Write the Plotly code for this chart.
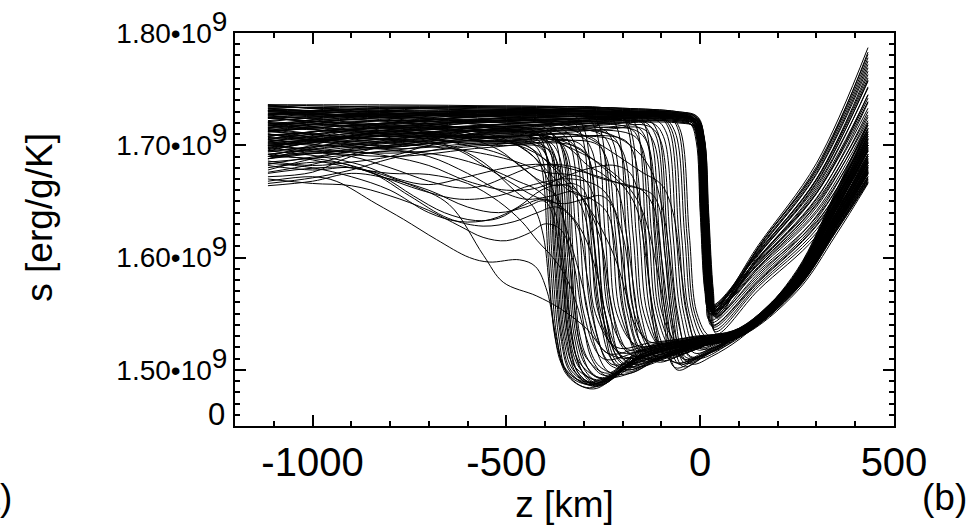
import plotly.graph_objects as go

# ---------------- data (z in km, s in units of 1e9 erg/g/K) ----------------
late_cliff_profiles = [
    [(-1115,1.736),(-800,1.736),(-500,1.735),(-200,1.733),(-60,1.730),(-15,1.726),(0,1.710),(10,1.64),(22,1.57),(32,1.551),(150,1.611),(300,1.684),(433,1.787)],
    [(-1115,1.733),(-800,1.735),(-500,1.734),(-200,1.732),(-60,1.729),(-11,1.725),(4,1.709),(14,1.64),(26,1.57),(36,1.548),(150,1.609),(300,1.681),(433,1.781)],
    [(-1115,1.728),(-800,1.733),(-500,1.734),(-200,1.731),(-60,1.729),(-19,1.725),(-4,1.709),(6,1.64),(18,1.57),(28,1.553),(150,1.608),(300,1.677),(433,1.775)],
    [(-1115,1.735),(-800,1.731),(-500,1.730),(-200,1.731),(-60,1.728),(-7,1.724),(8,1.708),(18,1.64),(30,1.57),(40,1.550),(150,1.606),(300,1.674),(433,1.769)],
    [(-1115,1.722),(-800,1.728),(-500,1.732),(-200,1.730),(-60,1.727),(-13,1.723),(2,1.707),(12,1.64),(24,1.57),(34,1.556),(150,1.605),(300,1.670),(433,1.763)],
    [(-1115,1.731),(-800,1.730),(-500,1.727),(-200,1.729),(-60,1.727),(-23,1.723),(-8,1.707),(2,1.64),(14,1.57),(24,1.552),(150,1.603),(300,1.667),(433,1.757)],
    [(-1115,1.718),(-800,1.725),(-500,1.729),(-200,1.728),(-60,1.726),(-9,1.722),(6,1.706),(16,1.64),(28,1.57),(38,1.547),(150,1.602),(300,1.664),(433,1.751)],
    [(-1115,1.726),(-800,1.722),(-500,1.726),(-200,1.728),(-60,1.726),(-17,1.722),(-2,1.706),(8,1.64),(20,1.57),(30,1.554),(150,1.600),(300,1.660),(433,1.745)],
    [(-1115,1.712),(-800,1.720),(-500,1.724),(-200,1.727),(-60,1.725),(-5,1.721),(10,1.705),(20,1.64),(32,1.57),(42,1.549),(150,1.599),(300,1.657),(433,1.739)],
    [(-1115,1.733),(-800,1.726),(-500,1.720),(-200,1.726),(-60,1.724),(-21,1.720),(-6,1.704),(4,1.64),(16,1.57),(26,1.557),(150,1.597),(300,1.653),(433,1.733)],
    [(-1115,1.706),(-800,1.716),(-500,1.722),(-200,1.725),(-60,1.724),(-11,1.720),(4,1.704),(14,1.64),(26,1.57),(36,1.551),(150,1.595),(300,1.650),(433,1.727)],
    [(-1115,1.724),(-800,1.718),(-500,1.717),(-200,1.724),(-60,1.723),(-25,1.719),(-10,1.703),(0,1.64),(12,1.57),(22,1.555),(150,1.594),(300,1.647),(433,1.722)],
    [(-1115,1.716),(-800,1.712),(-500,1.719),(-200,1.722),(-60,1.722),(-3,1.718),(12,1.702),(22,1.64),(34,1.57),(44,1.546),(150,1.609),(300,1.679),(433,1.778)],
    [(-1115,1.700),(-800,1.710),(-500,1.715),(-200,1.721),(-60,1.721),(-18,1.717),(-3,1.701),(7,1.64),(19,1.57),(29,1.553),(150,1.604),(300,1.669),(433,1.760)],
    [(-1115,1.729),(-800,1.721),(-500,1.713),(-200,1.720),(-60,1.720),(-8,1.716),(7,1.700),(17,1.64),(29,1.57),(39,1.550),(150,1.599),(300,1.658),(433,1.742)],
    [(-1115,1.710),(-800,1.706),(-500,1.716),(-200,1.722),(-60,1.721),(-15,1.717),(0,1.701),(10,1.64),(22,1.57),(32,1.552),(150,1.607),(300,1.675),(433,1.772)],
    [(-1115,1.734),(-800,1.733),(-500,1.731),(-200,1.729),(-60,1.727),(-12,1.723),(3,1.707),(13,1.64),(25,1.57),(35,1.552),(150,1.590),(300,1.640),(433,1.715)],
    [(-1115,1.719),(-800,1.727),(-500,1.730),(-200,1.729),(-60,1.728),(-20,1.724),(-5,1.708),(5,1.64),(17,1.57),(27,1.549),(150,1.592),(300,1.645),(433,1.725)],
    [(-1115,1.727),(-800,1.734),(-500,1.733),(-200,1.730),(-60,1.729),(-6,1.725),(9,1.709),(19,1.64),(31,1.57),(41,1.554),(150,1.588),(300,1.636),(433,1.708)],
    [(-1115,1.704),(-800,1.714),(-500,1.725),(-200,1.727),(-60,1.726),(-16,1.722),(-1,1.706),(9,1.64),(21,1.57),(31,1.551),(150,1.596),(300,1.652),(433,1.738)],
    [(-1115,1.732),(-800,1.729),(-500,1.725),(-200,1.726),(-60,1.725),(-10,1.721),(5,1.705),(15,1.64),(27,1.57),(37,1.556),(150,1.600),(300,1.662),(433,1.752)],
    [(-1115,1.715),(-800,1.723),(-500,1.731),(-200,1.732),(-60,1.729),(-22,1.725),(-7,1.709),(3,1.64),(15,1.57),(25,1.550),(150,1.605),(300,1.670),(433,1.766)],
    [(-1115,1.736),(-800,1.734),(-500,1.732),(-200,1.729),(-60,1.726),(-4,1.722),(11,1.706),(21,1.64),(33,1.57),(43,1.548),(150,1.586),(300,1.632),(433,1.700)],
    [(-1115,1.721),(-800,1.717),(-500,1.721),(-200,1.725),(-60,1.725),(-14,1.721),(1,1.705),(11,1.64),(23,1.57),(33,1.553),(150,1.598),(300,1.657),(433,1.745)],
    [(-1115,1.708),(-800,1.719),(-500,1.728),(-200,1.730),(-60,1.728),(-24,1.724),(-9,1.708),(1,1.64),(13,1.57),(23,1.555),(150,1.603),(300,1.666),(433,1.758)],
    [(-1115,1.725),(-800,1.732),(-500,1.735),(-200,1.733),(-60,1.730),(-9,1.726),(6,1.710),(16,1.64),(28,1.57),(38,1.549),(150,1.609),(300,1.679),(433,1.783)],
    [(-1115,1.730),(-800,1.724),(-500,1.722),(-200,1.724),(-60,1.723),(-18,1.719),(-3,1.703),(7,1.64),(19,1.57),(29,1.552),(150,1.594),(300,1.648),(433,1.730)],
    [(-1115,1.713),(-800,1.727),(-500,1.729),(-200,1.727),(-60,1.726),(-7,1.722),(8,1.706),(18,1.64),(30,1.57),(40,1.547),(150,1.591),(300,1.642),(433,1.720)],
]

cliff_low_profiles = [
    [(-1115,1.724),(-800,1.728),(-500,1.726),(-200,1.725),(-60,1.724),(-13,1.720),(2,1.704),(12,1.64),(24,1.565),(34,1.538),(150,1.578),(300,1.628),(433,1.700)],
    [(-1115,1.709),(-800,1.717),(-500,1.724),(-200,1.726),(-60,1.725),(-19,1.721),(-4,1.705),(6,1.64),(18,1.565),(28,1.542),(150,1.582),(300,1.634),(433,1.712)],
    [(-1115,1.731),(-800,1.726),(-500,1.728),(-200,1.727),(-60,1.726),(-8,1.722),(7,1.706),(17,1.64),(29,1.565),(39,1.534),(150,1.574),(300,1.622),(433,1.692)],
    [(-1115,1.717),(-800,1.731),(-500,1.733),(-200,1.729),(-60,1.727),(-15,1.723),(0,1.707),(10,1.64),(22,1.565),(32,1.540),(150,1.580),(300,1.631),(433,1.706)],
    [(-1115,1.735),(-800,1.729),(-500,1.723),(-200,1.724),(-60,1.723),(-10,1.719),(5,1.703),(15,1.64),(27,1.565),(37,1.536),(150,1.576),(300,1.625),(433,1.696)],
    [(-1115,1.702),(-800,1.711),(-500,1.719),(-200,1.723),(-60,1.722),(-22,1.718),(-7,1.702),(3,1.64),(15,1.565),(25,1.544),(150,1.584),(300,1.637),(433,1.718)],
    [(-1115,1.727),(-800,1.733),(-500,1.730),(-200,1.728),(-60,1.727),(-5,1.723),(10,1.707),(20,1.64),(32,1.565),(42,1.532),(150,1.571),(300,1.619),(433,1.688)],
    [(-1115,1.713),(-800,1.720),(-500,1.727),(-200,1.728),(-60,1.726),(-17,1.722),(-2,1.706),(8,1.64),(20,1.565),(30,1.539),(150,1.579),(300,1.629),(433,1.703)],
]

deep_dip_profiles = [
    [(-1115,1.702),(-800,1.708),(-550,1.706),(-440,1.703),(-410,1.691),(-387,1.60),(-370,1.53),(-345,1.496),(-285,1.484),(-150,1.510),(-30,1.522),(100,1.530),(250,1.572),(350,1.623),(433,1.667)],
    [(-1115,1.715),(-800,1.705),(-550,1.710),(-430,1.707),(-400,1.695),(-377,1.60),(-360,1.53),(-335,1.498),(-278,1.486),(-150,1.512),(-30,1.524),(100,1.532),(250,1.574),(350,1.627),(433,1.672)],
    [(-1115,1.695),(-800,1.712),(-550,1.704),(-423,1.700),(-393,1.688),(-370,1.60),(-353,1.53),(-328,1.500),(-272,1.488),(-150,1.509),(-30,1.520),(100,1.529),(250,1.576),(350,1.630),(433,1.677)],
    [(-1115,1.725),(-800,1.716),(-550,1.712),(-415,1.710),(-385,1.698),(-362,1.60),(-345,1.53),(-320,1.497),(-268,1.485),(-150,1.514),(-30,1.526),(100,1.534),(250,1.577),(350,1.633),(433,1.682)],
    [(-1115,1.688),(-800,1.700),(-550,1.708),(-407,1.705),(-377,1.693),(-354,1.60),(-337,1.53),(-312,1.502),(-262,1.490),(-150,1.511),(-30,1.523),(100,1.531),(250,1.579),(350,1.637),(433,1.687)],
    [(-1115,1.720),(-800,1.710),(-550,1.700),(-400,1.698),(-370,1.686),(-347,1.60),(-330,1.53),(-305,1.499),(-255,1.487),(-150,1.515),(-30,1.527),(100,1.535),(250,1.580),(350,1.640),(433,1.692)],
    [(-1115,1.705),(-800,1.720),(-550,1.714),(-390,1.712),(-360,1.700),(-337,1.60),(-320,1.53),(-295,1.504),(-250,1.492),(-150,1.516),(-30,1.525),(100,1.533),(250,1.582),(350,1.644),(433,1.697)],
    [(-1115,1.692),(-800,1.703),(-550,1.710),(-380,1.706),(-350,1.694),(-327,1.60),(-310,1.53),(-285,1.507),(-245,1.495),(-150,1.518),(-30,1.528),(100,1.536),(250,1.583),(350,1.647),(433,1.702)],
    [(-1115,1.710),(-800,1.697),(-550,1.702),(-445,1.699),(-415,1.687),(-392,1.60),(-375,1.53),(-350,1.501),(-290,1.489),(-150,1.508),(-30,1.521),(100,1.529),(250,1.573),(350,1.625),(433,1.670)],
    [(-1115,1.690),(-800,1.714),(-550,1.716),(-435,1.714),(-405,1.702),(-382,1.60),(-365,1.53),(-340,1.495),(-275,1.483),(-150,1.513),(-30,1.525),(100,1.533),(250,1.577),(350,1.632),(433,1.680)],
    [(-1115,1.728),(-800,1.722),(-550,1.708),(-427,1.703),(-397,1.691),(-374,1.60),(-357,1.53),(-332,1.499),(-265,1.487),(-150,1.511),(-30,1.523),(100,1.531),(250,1.575),(350,1.629),(433,1.675)],
    [(-1115,1.700),(-800,1.706),(-550,1.713),(-419,1.709),(-389,1.697),(-366,1.60),(-349,1.53),(-324,1.503),(-258,1.491),(-150,1.514),(-30,1.526),(100,1.534),(250,1.580),(350,1.639),(433,1.690)],
    [(-1115,1.683),(-800,1.699),(-550,1.703),(-411,1.701),(-381,1.689),(-358,1.60),(-341,1.53),(-316,1.498),(-262,1.486),(-150,1.512),(-30,1.524),(100,1.532),(250,1.578),(350,1.635),(433,1.684)],
    [(-1115,1.718),(-800,1.713),(-550,1.718),(-403,1.716),(-373,1.704),(-350,1.60),(-333,1.53),(-308,1.505),(-252,1.493),(-150,1.517),(-30,1.527),(100,1.535),(250,1.583),(350,1.646),(433,1.700)],
    [(-1115,1.697),(-800,1.709),(-550,1.707),(-395,1.704),(-365,1.692),(-342,1.60),(-325,1.53),(-300,1.501),(-258,1.489),(-150,1.514),(-30,1.525),(100,1.533),(250,1.581),(350,1.642),(433,1.695)],
    [(-1115,1.710),(-800,1.702),(-550,1.711),(-385,1.710),(-355,1.698),(-332,1.60),(-315,1.53),(-290,1.509),(-240,1.497),(-150,1.519),(-30,1.529),(100,1.537),(250,1.584),(350,1.649),(433,1.705)],
]

mid_drop_profiles = [
    [(-1115,1.710),(-800,1.700),(-550,1.714),(-365,1.712),(-335,1.700),(-310,1.62),(-290,1.55),(-240,1.515),(-150,1.520),(-20,1.527),(100,1.534),(250,1.582),(350,1.646),(433,1.700)],
    [(-1115,1.698),(-800,1.712),(-550,1.703),(-345,1.705),(-315,1.693),(-290,1.62),(-270,1.55),(-215,1.520),(-130,1.524),(-20,1.529),(100,1.536),(250,1.580),(350,1.639),(433,1.690)],
    [(-1115,1.730),(-800,1.725),(-550,1.726),(-330,1.727),(-300,1.715),(-275,1.62),(-255,1.55),(-200,1.512),(-110,1.518),(0,1.526),(100,1.533),(250,1.584),(350,1.649),(433,1.705)],
    [(-1115,1.685),(-800,1.695),(-550,1.706),(-310,1.708),(-280,1.696),(-255,1.62),(-235,1.55),(-185,1.518),(-100,1.522),(0,1.528),(100,1.532),(250,1.575),(350,1.629),(433,1.675)],
    [(-1115,1.727),(-800,1.728),(-550,1.729),(-290,1.729),(-260,1.717),(-235,1.62),(-215,1.55),(-165,1.522),(-80,1.524),(10,1.530),(100,1.537),(250,1.586),(350,1.654),(433,1.712)],
    [(-1115,1.700),(-800,1.690),(-550,1.698),(-273,1.702),(-243,1.690),(-218,1.62),(-198,1.55),(-150,1.508),(-70,1.515),(20,1.527),(100,1.533),(250,1.578),(350,1.635),(433,1.685)],
    [(-1115,1.718),(-800,1.710),(-550,1.716),(-255,1.715),(-225,1.703),(-200,1.62),(-180,1.55),(-130,1.525),(-50,1.526),(30,1.530),(100,1.535),(250,1.581),(350,1.642),(433,1.695)],
    [(-1115,1.690),(-800,1.702),(-550,1.710),(-237,1.710),(-207,1.698),(-182,1.62),(-162,1.55),(-115,1.515),(-40,1.519),(30,1.527),(100,1.532),(250,1.577),(350,1.632),(433,1.680)],
    [(-1115,1.735),(-800,1.731),(-550,1.731),(-220,1.731),(-190,1.719),(-165,1.62),(-145,1.55),(-100,1.520),(-30,1.522),(40,1.529),(100,1.536),(250,1.586),(350,1.652),(433,1.710)],
    [(-1115,1.708),(-800,1.715),(-550,1.704),(-203,1.706),(-173,1.694),(-148,1.62),(-128,1.55),(-85,1.512),(-20,1.517),(50,1.527),(110,1.535),(250,1.580),(350,1.639),(433,1.690)],
    [(-1115,1.720),(-800,1.708),(-550,1.714),(-187,1.716),(-157,1.704),(-132,1.62),(-112,1.55),(-70,1.518),(-10,1.521),(50,1.528),(110,1.537),(250,1.583),(350,1.646),(433,1.700)],
    [(-1115,1.697),(-800,1.720),(-550,1.728),(-173,1.730),(-143,1.718),(-118,1.62),(-98,1.55),(-60,1.525),(0,1.526),(60,1.531),(120,1.540),(250,1.587),(350,1.656),(433,1.715)],
    [(-1115,1.720),(-800,1.715),(-550,1.708),(-375,1.706),(-345,1.694),(-320,1.62),(-300,1.55),(-250,1.510),(-160,1.516),(-40,1.524),(100,1.531),(250,1.578),(350,1.635),(433,1.685)],
    [(-1115,1.692),(-800,1.705),(-550,1.716),(-355,1.714),(-325,1.702),(-300,1.62),(-280,1.55),(-228,1.505),(-140,1.513),(-30,1.523),(100,1.530),(250,1.576),(350,1.631),(433,1.678)],
    [(-1115,1.712),(-800,1.720),(-550,1.721),(-337,1.722),(-307,1.710),(-282,1.62),(-262,1.55),(-210,1.516),(-120,1.520),(-10,1.527),(100,1.535),(250,1.585),(350,1.651),(433,1.708)],
    [(-1115,1.700),(-800,1.693),(-550,1.700),(-320,1.703),(-290,1.691),(-265,1.62),(-245,1.55),(-190,1.507),(-100,1.514),(0,1.524),(100,1.531),(250,1.577),(350,1.633),(433,1.682)],
    [(-1115,1.733),(-800,1.727),(-550,1.726),(-300,1.726),(-270,1.714),(-245,1.62),(-225,1.55),(-175,1.513),(-90,1.518),(10,1.527),(100,1.534),(250,1.582),(350,1.644),(433,1.698)],
    [(-1115,1.688),(-800,1.710),(-550,1.707),(-281,1.707),(-251,1.695),(-226,1.62),(-206,1.55),(-158,1.518),(-70,1.521),(20,1.528),(100,1.533),(250,1.579),(350,1.638),(433,1.688)],
    [(-1115,1.705),(-800,1.698),(-550,1.712),(-263,1.711),(-233,1.699),(-208,1.62),(-188,1.55),(-140,1.510),(-60,1.516),(30,1.526),(100,1.530),(250,1.574),(350,1.627),(433,1.672)],
    [(-1115,1.725),(-800,1.726),(-550,1.728),(-245,1.728),(-215,1.716),(-190,1.62),(-170,1.55),(-122,1.520),(-45,1.522),(35,1.529),(100,1.535),(250,1.583),(350,1.647),(433,1.702)],
    [(-1115,1.695),(-800,1.703),(-550,1.704),(-228,1.705),(-198,1.693),(-173,1.62),(-153,1.55),(-108,1.509),(-35,1.515),(40,1.526),(105,1.532),(250,1.575),(350,1.629),(433,1.676)],
    [(-1115,1.731),(-800,1.728),(-550,1.727),(-211,1.727),(-181,1.715),(-156,1.62),(-136,1.55),(-92,1.516),(-25,1.519),(45,1.528),(110,1.535),(250,1.582),(350,1.643),(433,1.696)],
    [(-1115,1.703),(-800,1.718),(-550,1.727),(-195,1.729),(-165,1.717),(-140,1.62),(-120,1.55),(-78,1.514),(-15,1.518),(50,1.528),(115,1.537),(250,1.585),(350,1.650),(433,1.706)],
    [(-1115,1.714),(-800,1.699),(-550,1.708),(-180,1.710),(-150,1.698),(-125,1.62),(-105,1.55),(-65,1.521),(-5,1.523),(55,1.529),(115,1.536),(250,1.579),(350,1.636),(433,1.686)],
]

shoulder_drop_profiles = [
    [(-1115,1.700),(-800,1.708),(-550,1.706),(-450,1.700),(-380,1.680),(-330,1.660),(-300,1.640),(-280,1.60),(-260,1.55),(-230,1.51),(-190,1.500),(-110,1.510),(0,1.522),(100,1.531),(250,1.576),(350,1.630),(433,1.678)],
    [(-1115,1.712),(-800,1.705),(-650,1.700),(-560,1.685),(-480,1.660),(-430,1.645),(-405,1.62),(-385,1.56),(-365,1.515),(-335,1.494),(-280,1.487),(-160,1.510),(-30,1.522),(100,1.530),(250,1.573),(350,1.625),(433,1.669)],
    [(-1115,1.724),(-800,1.717),(-600,1.713),(-500,1.705),(-430,1.690),(-380,1.672),(-330,1.658),(-280,1.652),(-240,1.640),(-215,1.60),(-195,1.55),(-170,1.52),(-130,1.508),(-50,1.515),(40,1.526),(120,1.537),(250,1.580),(350,1.636),(433,1.686)],
    [(-1115,1.705),(-800,1.716),(-550,1.714),(-420,1.710),(-330,1.700),(-250,1.680),(-190,1.660),(-160,1.640),(-140,1.60),(-120,1.55),(-95,1.515),(-55,1.506),(10,1.516),(90,1.530),(250,1.581),(350,1.642),(433,1.695)],
    [(-1115,1.690),(-800,1.698),(-600,1.704),(-470,1.700),(-390,1.685),(-330,1.665),(-270,1.635),(-220,1.600),(-185,1.56),(-155,1.525),(-115,1.512),(-40,1.518),(40,1.527),(110,1.535),(250,1.578),(350,1.633),(433,1.682)],
    [(-1115,1.731),(-800,1.725),(-550,1.722),(-350,1.718),(-250,1.712),(-180,1.700),(-130,1.680),(-95,1.640),(-75,1.59),(-55,1.54),(-25,1.512),(20,1.515),(100,1.532),(250,1.585),(350,1.650),(433,1.708)],
    [(-1115,1.714),(-800,1.702),(-600,1.695),(-480,1.686),(-400,1.676),(-340,1.674),(-300,1.670),(-270,1.650),(-250,1.60),(-232,1.55),(-210,1.515),(-170,1.505),(-90,1.512),(10,1.524),(100,1.532),(250,1.577),(350,1.631),(433,1.680)],
    [(-1115,1.696),(-800,1.712),(-600,1.716),(-450,1.712),(-350,1.700),(-260,1.684),(-200,1.668),(-160,1.650),(-130,1.62),(-100,1.57),(-75,1.53),(-45,1.510),(10,1.513),(80,1.527),(250,1.583),(350,1.646),(433,1.700)],
    [(-1115,1.720),(-800,1.710),(-600,1.700),(-500,1.690),(-440,1.675),(-400,1.662),(-370,1.655),(-345,1.62),(-325,1.56),(-305,1.515),(-275,1.495),(-230,1.492),(-140,1.512),(-30,1.523),(100,1.532),(250,1.577),(350,1.632),(433,1.681)],
    [(-1115,1.728),(-800,1.730),(-550,1.726),(-380,1.720),(-280,1.705),(-210,1.690),(-150,1.676),(-100,1.665),(-70,1.640),(-50,1.59),(-30,1.545),(-5,1.520),(40,1.520),(120,1.537),(250,1.587),(350,1.655),(433,1.714)],
    [(-1115,1.702),(-800,1.696),(-650,1.690),(-550,1.680),(-470,1.668),(-420,1.660),(-380,1.645),(-355,1.60),(-338,1.55),(-318,1.51),(-285,1.490),(-240,1.490),(-150,1.512),(-30,1.524),(100,1.532),(250,1.575),(350,1.628),(433,1.676)],
    [(-1115,1.716),(-800,1.722),(-550,1.718),(-420,1.712),(-340,1.698),(-290,1.682),(-250,1.674),(-215,1.662),(-190,1.62),(-170,1.57),(-150,1.53),(-115,1.512),(-40,1.517),(40,1.527),(110,1.535),(250,1.582),(350,1.644),(433,1.697)],
]

near_drop_profiles = [
    [(-1115,1.712),(-800,1.722),(-500,1.718),(-250,1.720),(-170,1.718),(-140,1.706),(-115,1.62),(-95,1.55),(-65,1.502),(0,1.512),(100,1.532),(250,1.580),(350,1.639),(433,1.690)],
    [(-1115,1.703),(-800,1.714),(-500,1.724),(-250,1.723),(-160,1.722),(-130,1.710),(-105,1.62),(-85,1.55),(-55,1.505),(10,1.515),(100,1.533),(250,1.583),(350,1.646),(433,1.700)],
    [(-1115,1.725),(-800,1.713),(-500,1.708),(-250,1.714),(-150,1.715),(-120,1.703),(-95,1.62),(-75,1.55),(-45,1.503),(20,1.514),(100,1.530),(250,1.577),(350,1.632),(433,1.680)],
    [(-1115,1.694),(-800,1.707),(-500,1.719),(-250,1.725),(-140,1.724),(-110,1.712),(-85,1.62),(-65,1.55),(-35,1.508),(30,1.518),(110,1.536),(250,1.586),(350,1.652),(433,1.710)],
    [(-1115,1.730),(-800,1.724),(-500,1.712),(-250,1.718),(-125,1.720),(-95,1.708),(-70,1.62),(-50,1.55),(-15,1.515),(50,1.524),(120,1.538),(250,1.584),(350,1.649),(433,1.705)],
    [(-1115,1.716),(-800,1.728),(-500,1.727),(-250,1.726),(-110,1.726),(-80,1.714),(-55,1.62),(-35,1.55),(0,1.520),(60,1.528),(130,1.541),(250,1.589),(350,1.659),(433,1.720)],
    [(-1115,1.707),(-800,1.704),(-500,1.716),(-250,1.722),(-95,1.724),(-65,1.712),(-40,1.62),(-20,1.55),(15,1.525),(70,1.530),(140,1.542),(250,1.581),(350,1.642),(433,1.695)],
    [(-1115,1.721),(-800,1.730),(-500,1.729),(-250,1.728),(-83,1.727),(-53,1.715),(-28,1.62),(-8,1.55),(25,1.530),(80,1.534),(150,1.546),(250,1.587),(350,1.656),(433,1.715)],
    [(-1115,1.699),(-800,1.709),(-500,1.714),(-250,1.716),(-165,1.713),(-135,1.701),(-110,1.62),(-90,1.55),(-60,1.500),(5,1.511),(100,1.531),(250,1.579),(350,1.636),(433,1.685)],
    [(-1115,1.727),(-800,1.719),(-500,1.722),(-250,1.721),(-145,1.721),(-115,1.709),(-90,1.62),(-70,1.55),(-40,1.506),(25,1.516),(105,1.534),(250,1.582),(350,1.644),(433,1.698)],
    [(-1115,1.708),(-800,1.716),(-500,1.711),(-250,1.716),(-133,1.717),(-103,1.705),(-78,1.62),(-58,1.55),(-25,1.511),(40,1.521),(115,1.535),(250,1.579),(350,1.638),(433,1.688)],
    [(-1115,1.736),(-800,1.727),(-500,1.720),(-250,1.723),(-117,1.723),(-87,1.711),(-62,1.62),(-42,1.55),(-8,1.518),(55,1.526),(125,1.539),(250,1.586),(350,1.654),(433,1.712)],
    [(-1115,1.701),(-800,1.712),(-500,1.723),(-250,1.726),(-103,1.725),(-73,1.713),(-48,1.62),(-28,1.55),(8,1.522),(65,1.529),(135,1.541),(250,1.584),(350,1.648),(433,1.703)],
    [(-1115,1.718),(-800,1.725),(-500,1.731),(-250,1.729),(-89,1.728),(-59,1.716),(-34,1.62),(-14,1.55),(20,1.528),(75,1.532),(145,1.545),(250,1.588),(350,1.658),(433,1.718)],
]

gradual_profiles = [
    [(-1115,1.668),(-1000,1.672),(-939,1.668),(-836,1.648),(-765,1.634),(-680,1.616),(-595,1.600),(-544,1.596),(-466,1.598),(-425,1.592),(-395,1.57),(-372,1.53),(-345,1.50),(-280,1.487),(-150,1.512),(-30,1.522),(100,1.530),(250,1.572),(350,1.623),(433,1.667)],
    [(-1115,1.675),(-900,1.680),(-750,1.665),(-647,1.647),(-559,1.602),(-508,1.578),(-423,1.566),(-363,1.555),(-294,1.537),(-240,1.515),(-180,1.510),(-80,1.518),(20,1.525),(100,1.532),(250,1.575),(350,1.628),(433,1.672)],
    [(-1115,1.680),(-950,1.685),(-850,1.676),(-750,1.655),(-650,1.635),(-560,1.628),(-480,1.632),(-420,1.640),(-370,1.645),(-320,1.630),(-290,1.58),(-265,1.53),(-235,1.505),(-180,1.500),(-100,1.512),(0,1.524),(100,1.535),(250,1.578),(350,1.630),(433,1.677)],
    [(-1115,1.690),(-950,1.686),(-820,1.672),(-720,1.660),(-620,1.652),(-520,1.655),(-430,1.665),(-330,1.670),(-250,1.660),(-200,1.620),(-175,1.56),(-150,1.52),(-110,1.507),(-40,1.515),(40,1.526),(120,1.540),(250,1.580),(350,1.633),(433,1.682)],
    [(-1115,1.695),(-980,1.690),(-870,1.682),(-780,1.670),(-700,1.665),(-600,1.672),(-500,1.680),(-400,1.683),(-300,1.676),(-200,1.665),(-120,1.655),(-90,1.60),(-70,1.54),(-40,1.512),(0,1.510),(60,1.520),(150,1.545),(250,1.583),(350,1.637),(433,1.687)],
    [(-1115,1.664),(-1000,1.668),(-900,1.675),(-800,1.670),(-700,1.660),(-600,1.645),(-520,1.640),(-450,1.645),(-400,1.650),(-360,1.60),(-340,1.53),(-310,1.495),(-265,1.488),(-170,1.508),(-40,1.520),(100,1.529),(250,1.570),(350,1.620),(433,1.666)],
    [(-1115,1.672),(-1000,1.676),(-900,1.690),(-800,1.695),(-700,1.690),(-600,1.675),(-520,1.660),(-450,1.652),(-380,1.655),(-320,1.658),(-260,1.620),(-230,1.56),(-200,1.52),(-150,1.510),(-70,1.514),(30,1.524),(120,1.536),(250,1.576),(350,1.625),(433,1.670)],
    [(-1115,1.666),(-1000,1.671),(-900,1.678),(-800,1.688),(-700,1.695),(-600,1.700),(-450,1.702),(-330,1.700),(-290,1.690),(-265,1.62),(-245,1.55),(-200,1.505),(-120,1.511),(0,1.523),(100,1.531),(250,1.575),(350,1.628),(433,1.674)],
    [(-1115,1.684),(-1000,1.680),(-900,1.672),(-800,1.660),(-700,1.640),(-620,1.632),(-540,1.634),(-470,1.645),(-410,1.660),(-360,1.665),(-320,1.660),(-290,1.640),(-262,1.58),(-240,1.53),(-210,1.505),(-150,1.503),(-60,1.515),(40,1.526),(120,1.536),(250,1.577),(350,1.628),(433,1.675)],
    [(-1115,1.678),(-1000,1.688),(-900,1.694),(-800,1.690),(-700,1.682),(-600,1.668),(-500,1.660),(-420,1.662),(-350,1.672),(-280,1.680),(-220,1.682),(-180,1.675),(-150,1.64),(-130,1.57),(-105,1.52),(-60,1.506),(0,1.512),(70,1.522),(150,1.542),(250,1.579),(350,1.634),(433,1.684)],
    [(-1115,1.686),(-1000,1.682),(-900,1.685),(-800,1.690),(-700,1.700),(-600,1.706),(-500,1.704),(-430,1.690),(-380,1.66),(-340,1.62),(-300,1.57),(-270,1.52),(-235,1.498),(-180,1.497),(-110,1.509),(-20,1.520),(90,1.530),(250,1.574),(350,1.626),(433,1.671)],
    [(-1115,1.670),(-1000,1.666),(-900,1.664),(-800,1.655),(-700,1.642),(-620,1.628),(-560,1.618),(-500,1.615),(-440,1.622),(-400,1.630),(-360,1.625),(-330,1.60),(-305,1.55),(-280,1.51),(-240,1.494),(-180,1.497),(-100,1.511),(0,1.522),(100,1.530),(250,1.573),(350,1.624),(433,1.668)],
    [(-1115,1.682),(-1000,1.678),(-900,1.680),(-820,1.672),(-740,1.655),(-660,1.640),(-580,1.633),(-520,1.635),(-460,1.646),(-400,1.652),(-340,1.640),(-300,1.620),(-270,1.59),(-245,1.55),(-220,1.515),(-180,1.503),(-110,1.511),(-10,1.522),(100,1.532),(250,1.577),(350,1.631),(433,1.679)],
    [(-1115,1.692),(-1000,1.687),(-900,1.680),(-800,1.675),(-700,1.674),(-600,1.666),(-520,1.650),(-460,1.632),(-420,1.615),(-380,1.600),(-350,1.585),(-320,1.56),(-295,1.53),(-265,1.505),(-220,1.497),(-150,1.506),(-50,1.517),(50,1.527),(130,1.538),(250,1.578),(350,1.632),(433,1.679)],
    [(-1115,1.676),(-1000,1.683),(-900,1.692),(-800,1.700),(-700,1.702),(-620,1.695),(-550,1.680),(-480,1.665),(-430,1.655),(-390,1.650),(-350,1.648),(-300,1.652),(-255,1.655),(-225,1.645),(-205,1.61),(-185,1.56),(-165,1.525),(-130,1.510),(-60,1.514),(20,1.524),(110,1.535),(250,1.579),(350,1.635),(433,1.684)],
    [(-1115,1.688),(-1000,1.693),(-900,1.690),(-800,1.680),(-700,1.668),(-620,1.662),(-560,1.664),(-500,1.672),(-440,1.680),(-380,1.683),(-320,1.680),(-270,1.672),(-230,1.668),(-190,1.665),(-150,1.660),(-120,1.645),(-100,1.60),(-80,1.55),(-55,1.515),(-20,1.505),(30,1.512),(100,1.527),(180,1.552),(250,1.584),(350,1.640),(433,1.692)],
    [(-1115,1.698),(-1000,1.694),(-900,1.697),(-800,1.704),(-700,1.708),(-600,1.706),(-520,1.696),(-460,1.680),(-410,1.668),(-370,1.664),(-330,1.666),(-300,1.660),(-280,1.63),(-262,1.58),(-245,1.535),(-225,1.507),(-190,1.498),(-130,1.506),(-30,1.519),(90,1.531),(250,1.576),(350,1.629),(433,1.676)],
]

x_tick_vals = [-1000, -500, 0, 500]
x_tick_text = ["-1000", "-500", "0", "500"]
y_tick_vals = [1.5, 1.6, 1.7, 1.8]
y_tick_base = ["1.50•10", "1.60•10", "1.70•10", "1.80•10"]
y_extra_tick_val = 1.46
y_extra_tick_text = "0"

FONT = "Liberation Sans, Arial, sans-serif"
X_TICK_SIZE = 40
Y_TICK_SIZE = 28
TITLE_SIZE = 37

fig = go.Figure()
for group in (late_cliff_profiles, cliff_low_profiles, deep_dip_profiles, mid_drop_profiles,
              shoulder_drop_profiles, near_drop_profiles, gradual_profiles):
    for prof in group:
        fig.add_trace(go.Scatter(
            x=[p[0] for p in prof], y=[p[1] for p in prof], mode="lines",
            line=dict(color="black", width=1, shape="spline", smoothing=1.0),
            showlegend=False, hoverinfo="skip"))

y_tick_text = [b + "<sup><span style='font-size:%dpx'>9</span></sup>" % Y_TICK_SIZE for b in y_tick_base]

axis_common = dict(showline=True, linecolor="black", linewidth=2, mirror="allticks",
                   ticks="inside", ticklen=11, tickwidth=2, tickcolor="black",
                   showgrid=False, zeroline=False, automargin=False)

fig.update_layout(
    width=969, height=527,
    margin=dict(l=235, r=75, t=33, b=101),
    paper_bgcolor="white", plot_bgcolor="white",
    font=dict(family=FONT, size=X_TICK_SIZE, color="black"),
    xaxis=dict(range=[-1200, 500], tickvals=x_tick_vals, ticktext=x_tick_text,
               minor=dict(ticks="inside", ticklen=5, tickwidth=2, dtick=100, tick0=0, tickcolor="black"),
               ticklabelstandoff=0,
               tickfont=dict(family=FONT, size=X_TICK_SIZE, color="black"),
               title=dict(text="z [km]", font=dict(family=FONT, size=TITLE_SIZE), standoff=8),
               **axis_common),
    yaxis=dict(range=[1.45, 1.80], tickvals=y_tick_vals, ticktext=y_tick_text,
               minor=dict(ticks="inside", ticklen=5, tickwidth=2, dtick=0.01, tick0=1.5, tickcolor="black"),
               ticklabelstandoff=0,
               tickfont=dict(family=FONT, size=Y_TICK_SIZE, color="black"),
               **axis_common),
    annotations=[
        dict(text="s [erg/g/K]", textangle=-90, xref="paper", yref="paper",
             x=-0.2959, y=0.53, xanchor="center", yanchor="middle", showarrow=False,
             font=dict(family=FONT, size=TITLE_SIZE)),
        dict(text=y_extra_tick_text, xref="paper", yref="y", x=0, y=y_extra_tick_val,
             xanchor="right", yanchor="middle", xshift=-8, showarrow=False,
             font=dict(family=FONT, size=31)),
        dict(text="(a)", xref="paper", yref="paper", x=-0.3354, y=-0.183,
             xanchor="right", yanchor="middle", showarrow=False,
             font=dict(family=FONT, size=TITLE_SIZE)),
        dict(text="(b)", xref="paper", yref="paper", x=1.077, y=-0.181,
             xanchor="center", yanchor="middle", showarrow=False,
             font=dict(family=FONT, size=TITLE_SIZE)),
    ],
)

fig.write_html("out.html", config={"displayModeBar": False},
               post_script="document.body.style.margin='0px';")
